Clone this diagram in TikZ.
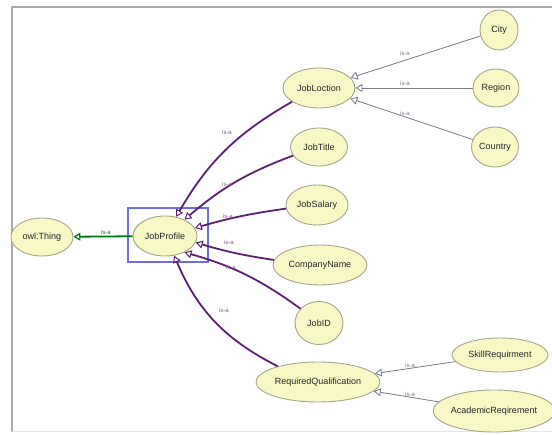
\documentclass[tikz,border=0pt]{standalone}
\usepackage{fontspec}
\setmainfont{Liberation Sans}
\usetikzlibrary{shapes.geometric,arrows.meta}
\definecolor{cls}{RGB}{248,248,198}
\definecolor{clsborder}{RGB}{165,165,140}
\definecolor{purp}{RGB}{92,32,112}
\definecolor{purplab}{RGB}{140,80,150}
\definecolor{greenedge}{RGB}{0,120,20}
\definecolor{grayedge}{RGB}{120,122,140}
\definecolor{boxblue}{RGB}{110,110,225}
\definecolor{framegray}{RGB}{170,170,170}
\tikzset{
  cnode/.style={ellipse, draw=clsborder, line width=0.9pt, fill=cls, inner sep=0pt,
    font=\fontsize{9}{10}\selectfont, text=black!85},
  subisa/.style={draw=purp, line width=1.8pt, -{Triangle[open,length=7pt,width=8pt,line width=1pt]}},
  grayisa/.style={draw=grayedge, line width=0.8pt, -{Triangle[open,length=7pt,width=8pt,line width=0.8pt]}},
  greenisa/.style={draw=greenedge, line width=1.8pt, -{Triangle[open,length=7pt,width=8pt,line width=1.2pt]}},
  lab/.style={font=\fontsize{6}{7}\selectfont, inner sep=0.5pt},
  plab/.style={lab, text=purplab},
  glab/.style={lab, text=grayedge},
}
\begin{document}
\begin{tikzpicture}[x=1pt,y=-1pt]
\useasboundingbox (0,0) rectangle (552,435);
% frame
\draw[framegray, line width=1.5pt] (12,432) -- (12,7) -- (552,7);
\draw[black!10, line width=1pt] (12,432) -- (552,432);
% nodes
\node[cnode, minimum width=62pt, minimum height=38pt] (thing) at (42,237) {owl:Thing};
\node[cnode, minimum width=64pt, minimum height=40pt] (jp) at (165,236) {JobProfile};
\node[draw=boxblue, line width=1.6pt, minimum width=80pt, minimum height=54pt, inner sep=0pt] (box) at (168,235) {};
\node[cnode, minimum width=72pt, minimum height=40pt] (jl) at (319,88) {JobLoction};
\node[cnode, minimum width=38pt, minimum height=40pt] (city) at (499,30) {City};
\node[cnode, minimum width=46pt, minimum height=38pt] (region) at (496,88) {Region};
\node[cnode, minimum width=47pt, minimum height=40pt] (country) at (495,147) {Country};
\node[cnode, minimum width=57pt, minimum height=38pt] (jt) at (319,147) {JobTitle};
\node[cnode, minimum width=62pt, minimum height=40pt] (js) at (317,205) {JobSalary};
\node[cnode, minimum width=94pt, minimum height=40pt] (cn) at (320,265) {CompanyName};
\node[cnode, minimum width=48pt, minimum height=43pt] (jid) at (319,323) {JobID};
\node[cnode, minimum width=124pt, minimum height=40pt] (rq) at (318,382) {RequiredQualification};
\node[cnode, minimum width=96pt, minimum height=34pt] (sr) at (500,355) {SkillRequirment};
\node[cnode, minimum width=116pt, minimum height=42pt] (ar) at (494,411) {AcademicReqirement};
% edges
\draw[greenisa] (jp) -- (thing);
\draw[subisa] (jl) to[bend right=15] (jp.60);
\draw[subisa] (jt) to[bend right=10] (jp.40);
\draw[subisa] (js) to[bend right=4] (jp.15);
\draw[subisa] (cn) to[bend left=4] (jp.-12);
\draw[subisa] (jid) to[bend right=10] (jp.-40);
\draw[subisa] (rq) to[bend left=20] (jp.-65);
\draw[grayisa] (city) -- (jl);
\draw[grayisa] (region) -- (jl);
\draw[grayisa] (country) -- (jl);
\draw[grayisa] (sr) -- (rq);
\draw[grayisa] (ar) -- (rq);
% labels
\node[lab, text=greenedge] (l0) at (106,232) {is-a};
\node[plab] (l1) at (227,132) {is-a};
\node[plab] (l2) at (227,184) {is-a};
\node[plab] (l3) at (228,216) {is-a};
\node[plab] (l4) at (229,242) {is-a};
\node[plab] (l5) at (231,267) {is-a};
\node[plab] (l6) at (224,310) {is-a};
\node[glab] (l7) at (405,53) {is-a};
\node[glab] (l8) at (405,83) {is-a};
\node[glab] (l9) at (405,113) {is-a};
\node[glab] (l10) at (410,365) {is-a};
\node[glab] (l11) at (410,394) {is-a};
\end{tikzpicture}
\end{document}
